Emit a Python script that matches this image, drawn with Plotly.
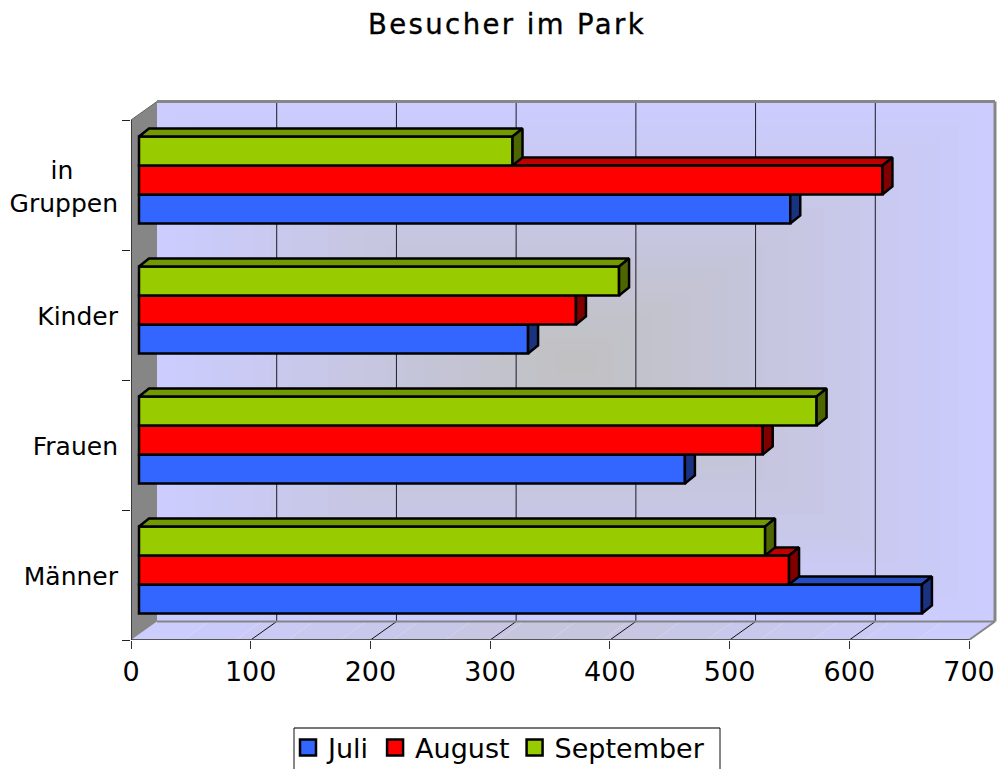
import plotly.graph_objects as go

categories = ["Männer", "Frauen", "Kinder", "in\u00a0\u00a0\u00a0\u00a0\u00a0\u2009<br>Gruppen"]
juli = [654, 456, 325, 544]
august = [543, 521, 365, 621]
september = [523, 566, 401, 312]
series = [
    ("Juli", juli, "#3366FF", "#264DBF", "#1A3380"),
    ("August", august, "#FF0000", "#BF0000", "#800000"),
    ("September", september, "#99CC00", "#739900", "#4D6600"),
]
x_ticks = [0, 100, 200, 300, 400, 500, 600, 700]

# pixel geometry of the plot frame
L, R, T, B = 131, 1001, 95, 640
X_PER_UNIT = (969 - 131) / 700
Y_PER_CAT = 130
def ux(px): return px / X_PER_UNIT
def uy(px): return px / Y_PER_CAT
def xp(px): return (px - L) / X_PER_UNIT
def yp(px): return (B - px) / Y_PER_CAT - 0.5
def paper_x(px): return (px - L) / (R - L)
def paper_y(px): return (B - px) / (B - T)

WALL_DX, WALL_DY = ux(26), uy(18.5)
BASE = ux(8)
DX, DY = ux(10), uy(8)
BAR_H = uy(29)
OFFS = [yp(613.5), yp(584.5), yp(555.5)]
XMAX = xp(R)
YMAX = yp(T)
EDGE = "#868686"

shapes = []
def poly(pts, fill=None, color=None, width=0):
    path = "M" + "L".join(f"{x:.4f},{y:.4f}" for x, y in pts) + "Z"
    shapes.append(dict(type="path", path=path, xref="x", yref="y", layer="below",
                       fillcolor=fill or "rgba(0,0,0,0)",
                       line=dict(color=color or "rgba(0,0,0,0)", width=width)))
def seg(a, b, color, width):
    shapes.append(dict(type="line", xref="x", yref="y", layer="below", x0=a[0], y0=a[1],
                       x1=b[0], y1=b[1], line=dict(color=color, width=width)))
def pseg(x0, y0, x1, y1, color, width):
    shapes.append(dict(type="line", xref="paper", yref="paper", x0=paper_x(x0), y0=paper_y(y0),
                       x1=paper_x(x1), y1=paper_y(y1), line=dict(color=color, width=width)))

# back wall: stepped rectangular gradient
wx0, wx1 = WALL_DX, 700 + WALL_DX
wy0, wy1 = -0.5 + WALL_DY, 3.5 + WALL_DY
N = 22
def mix(t):
    a, b = (0xCC, 0xCC, 0xFF), (0xC0, 0xC0, 0xC0)
    return "rgb(%d,%d,%d)" % tuple(round(p + (q - p) * t) for p, q in zip(a, b))
for i in range(N):
    t = i / N
    cx, cy = (wx0 + wx1) / 2, (wy0 + wy1) / 2
    hw, hh = (wx1 - wx0) / 2 * (1 - t), (wy1 - wy0) / 2 * (1 - t)
    poly([(cx - hw, cy - hh), (cx + hw, cy - hh), (cx + hw, cy + hh), (cx - hw, cy + hh)], fill=mix(t))

# floor: stepped horizontal gradient
M = 16
for i in range(M):
    t0, t1 = i / M, (i + 1) / M
    tt = 1 - abs((t0 + t1) / 2 - 0.5) * 2
    a0, a1 = 700 * t0, 700 * t1
    poly([(a0, -0.5), (a1, -0.5), (a1 + WALL_DX, wy0), (a0 + WALL_DX, wy0)], fill=mix(tt * 0.55))

# left wall
poly([(0, -0.5), (WALL_DX, wy0), (WALL_DX, wy1), (0, 3.5)], fill="#868686")

# grid on back wall and floor
for v in x_ticks[1:-1]:
    seg((v + WALL_DX, wy0), (v + WALL_DX, wy1), "#1c1c28", 1)
    seg((v, -0.5), (v + WALL_DX, wy0), "#111111", 1)

# wall edges
seg((wx0, wy1), (wx1, wy1), EDGE, 3)
seg((wx1, wy1), (wx1, wy0), EDGE, 3)
seg((wx0, wy0), (wx1, wy0), EDGE, 2)
seg((700, -0.5), (wx1, wy0), EDGE, 2)
seg((0, -0.5), (700, -0.5), "#555555", 2)
seg((0, 3.5), (WALL_DX, wy1), "#666666", 1)
seg((0, -0.5), (0, 3.5), "#222222", 1.5)

# legend frame, open at the page's bottom edge as in the reference
pseg(294, 728, 720, 728, "#777777", 2)
pseg(294, 728, 294, 769, "#111111", 1)
pseg(720, 728, 720, 769, "#111111", 1)

fig = go.Figure()
group_pos = list(range(len(categories)))
for k, (name, vals, front, top, side) in enumerate(series):
    sfx = "" if k == 0 else str(k + 1)
    xa, ya = "x" + sfx, "y" + sfx
    fig.add_trace(go.Bar(
        y=group_pos, x=vals, base=[BASE] * len(vals), orientation="h", width=BAR_H, offset=OFFS[k],
        marker=dict(color=front, line=dict(color="black", width=2.5)),
        xaxis=xa, yaxis=ya, name=name, showlegend=False))
    tx, ty, sx, sy = [], [], [], []
    for p, v in zip(group_pos, vals):
        yb, yt = p + OFFS[k], p + OFFS[k] + BAR_H
        e = BASE + v
        tx += [BASE, e, e + DX, BASE + DX, BASE, None]
        ty += [yt, yt, yt + DY, yt + DY, yt, None]
        sx += [e, e, e + DX, e + DX, e, None]
        sy += [yb, yt, yt + DY, yb + DY, yb, None]
    for px_, py_, col in ((tx, ty, top), (sx, sy, side)):
        fig.add_trace(go.Scatter(x=px_, y=py_, mode="lines", fill="toself", fillcolor=col,
                                 line=dict(color="black", width=2.5), hoverinfo="skip",
                                 xaxis=xa, yaxis=ya, showlegend=False))
    fig.add_trace(go.Scatter(x=[None], y=[None], mode="markers", name=name,
                             marker=dict(symbol="square", size=16, color=front,
                                         line=dict(color="black", width=2.5)),
                             xaxis=xa, yaxis=ya))

FONT = "DejaVu Sans"
fig.update_layout(
    width=1003, height=769,
    margin=dict(l=L, r=1003 - R, t=T, b=769 - B, autoexpand=False),
    paper_bgcolor="white", plot_bgcolor="white",
    font=dict(family=FONT, color="black", size=25),
    title=dict(text="Besucher im Park", x=507 / 1003, xanchor="center", y=1 - 24 / 769, yanchor="middle",
               font=dict(size=27.5, family=FONT)),
    barmode="overlay",
    showlegend=True,
    shapes=shapes,
    legend=dict(orientation="h", x=paper_x(288), xanchor="left", y=paper_y(723.5), yanchor="top",
                borderwidth=0, bgcolor="rgba(0,0,0,0)",
                font=dict(size=27, family=FONT), itemsizing="trace",
                traceorder="normal"),
    xaxis=dict(range=[0, XMAX], tickvals=x_ticks, ticks="outside", ticklen=8, tickcolor="#333333",
               showgrid=False, zeroline=False, showline=False, tickfont=dict(size=27), fixedrange=True),
    yaxis=dict(range=[-0.5, YMAX], tickvals=[p - 0.012 for p in group_pos], ticktext=categories, ticks="outside",
               ticklen=7, tickcolor="rgba(0,0,0,0)", showgrid=False, zeroline=False, showline=False,
               tickfont=dict(size=25), fixedrange=True,
               minor=dict(tickvals=[-0.5, 0.5, 1.5, 2.5, 3.5], ticks="outside", ticklen=8, tickcolor="#222222")),
)
for k in (2, 3):
    fig.update_layout({
        f"xaxis{k}": dict(overlaying="x", matches="x", visible=False, range=[0, XMAX]),
        f"yaxis{k}": dict(overlaying="y", matches="y", visible=False, range=[-0.5, YMAX]),
    })

post = """
document.body.style.margin='0';document.body.style.overflow='hidden';
document.querySelectorAll('.gtitle').forEach(function(e){e.style.letterSpacing='2.4px';e.style.stroke='black';e.style.strokeWidth='0.35px';});
"""
fig.write_html("out.html", post_script=post, config={"displayModeBar": False})
